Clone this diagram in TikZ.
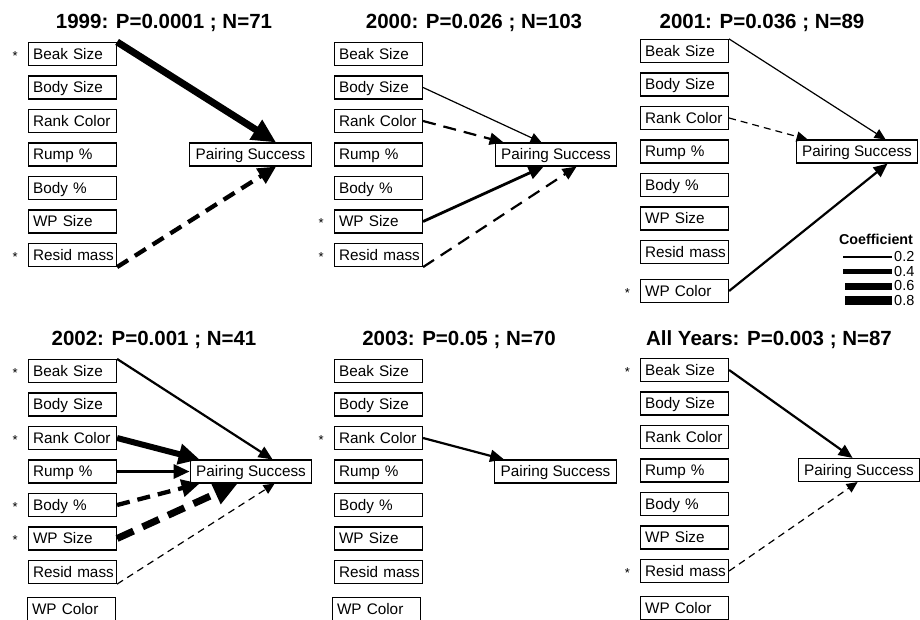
\documentclass[tikz,border=0pt]{standalone}
\usepackage{fontspec}
\setmainfont{Liberation Sans}
\usetikzlibrary{arrows.meta}
\newcommand\mypanel[3]{%
  \foreach \n/\t [count=\i] in {a/Beak Size, b/Body Size, c/Rank Color, d/Rump \%, e/Body \%, f/WP Size, g/\mbox{Resid mass}}{%
    \node[vbox] (#1\n) at (#2,{#3+33.5*(\i-1)}) {\t};}}
\newcommand\astk[1]{\node[astn] (#1s) at ([xshift=-10pt,yshift=-1pt]#1.base west) {*};}
\begin{document}
\begin{tikzpicture}[x=1pt,y=-1pt,
  vbox/.style={draw, line width=1.1pt, anchor=west, text width=79pt, inner xsep=4.5pt, inner ysep=0pt,
    minimum height=23pt, align=left, text height=12pt, text depth=2pt, font=\fontsize{15.3}{17}\selectfont},
  pbox/.style={draw, line width=1.1pt, inner xsep=6pt, inner ysep=0pt, minimum height=23pt,
    text height=12pt, text depth=2pt, font=\fontsize{15.3}{17}\selectfont},
  ttl/.style={anchor=base, inner sep=0pt, font=\bfseries\fontsize{20.5}{24}\selectfont},
  astn/.style={anchor=base east, inner sep=0pt, font=\fontsize{13}{15}\selectfont},
  lgd/.style={anchor=west, inner sep=0pt, font=\fontsize{14.5}{16}\selectfont},
  w1/.style={line width=1.2pt, -{Triangle[length=11pt,width=10pt]}},
  w2/.style={line width=2.2pt, -{Triangle[length=14pt,width=12pt]}},
  w2b/.style={line width=2.8pt, -{Triangle[length=15pt,width=13pt]}},
  w3/.style={line width=3.2pt, -{Triangle[length=16pt,width=14pt]}},
  w4/.style={line width=4.3pt, -{Triangle[length=18pt,width=17pt]}},
  w5/.style={line width=6pt, -{Triangle[length=21pt,width=20pt]}},
  w6/.style={line width=7pt, -{Triangle[length=24pt,width=22pt]}},
  dsh1/.style={dash pattern=on 7pt off 5pt},
  dsh2/.style={dash pattern=on 13pt off 8pt},
  dsh3/.style={dash pattern=on 18pt off 10pt},
]
\useasboundingbox (0,0) rectangle (920,619);

% ---------- titles ----------
\node[ttl] (t1) at (164,28.5) {1999: P=0.0001 ; N=71};
\node[ttl] (t2) at (474,28.5) {2000: P=0.026 ; N=103};
\node[ttl] (t3) at (762,28.5) {2001: P=0.036 ; N=89};
\node[ttl] (t4) at (154,345) {2002: P=0.001 ; N=41};
\node[ttl] (t5) at (459,345) {2003: P=0.05 ; N=70};
\node[ttl] (t6) at (769,345) {All Years: P=0.003 ; N=87};

% ---------- boxes ----------
\mypanel{P1}{28}{54}
\mypanel{P2}{334}{54}
\mypanel{P3}{640}{51}
\node[vbox] (P3h) at (640,291) {WP Color};
\mypanel{P4}{28}{371}
\node[vbox] (P4h) at (27,609) {WP Color};
\mypanel{P5}{334}{371}
\node[vbox] (P5h) at (332,609) {WP Color};
\mypanel{P6}{640}{370}
\node[vbox] (P6h) at (640,608) {WP Color};

\node[pbox] (P1ps) at (250.5,154.5) {Pairing Success};
\node[pbox] (P2ps) at (556,154.5) {Pairing Success};
\node[pbox] (P3ps) at (857,151.5) {Pairing Success};
\node[pbox] (P4ps) at (251,471.5) {Pairing Success};
\node[pbox] (P5ps) at (555.5,471.5) {Pairing Success};
\node[pbox] (P6ps) at (859,470) {Pairing Success};

% ---------- asterisks ----------
\astk{P1a}\astk{P1g}
\astk{P2f}\astk{P2g}
\astk{P3h}
\astk{P4a}\astk{P4c}\astk{P4e}\astk{P4f}
\astk{P5c}
\astk{P6a}\astk{P6g}

% ---------- arrows ----------
\draw[w6] (P1a.north east) -- ([xshift=87pt]P1ps.north west);
\draw[w4,dsh2] (P1g.south east) -- ([xshift=87pt]P1ps.south west);

\draw[w1] (P2b.east) -- ([xshift=47pt]P2ps.north west);
\draw[w2,dsh2] (P2c.east) -- ([xshift=9pt]P2ps.north west);
\draw[w2b] (P2f.east) -- ([xshift=49pt]P2ps.south west);
\draw[w2,dsh2] (P2g.south east) -- ([xshift=82pt]P2ps.south west);

\draw[w1] (P3a.north east) -- ([xshift=90pt]P3ps.north west);
\draw[w1,dsh1] (P3c.east) -- ([xshift=12pt]P3ps.north west);
\draw[w2] (P3h.east) -- ([xshift=92pt]P3ps.south west);

\draw[w2] (P4a.north east) -- ([xshift=83pt]P4ps.north west);
\draw[w5] (P4c.east) -- ([xshift=10pt]P4ps.north west);
\draw[w3] (P4d.east) -- (P4ps.west);
\draw[w4,dsh2] (P4e.east) -- ([xshift=10pt]P4ps.south west);
\draw[w6,dsh3] (P4f.east) -- ([xshift=48pt]P4ps.south west);
\draw[w1,dsh1] (P4g.south east) -- ([xshift=85pt]P4ps.south west);

\draw[w2] (P5c.east) -- ([xshift=10pt]P5ps.north west);

\draw[w2] (P6a.east) -- ([xshift=55pt]P6ps.north west);
\draw[w1,dsh1] (P6g.east) -- ([xshift=60pt]P6ps.south west);

% ---------- legend ----------
\node[anchor=base, inner sep=0pt, font=\bfseries\fontsize{14.3}{16}\selectfont] (coef) at (876,244) {Coefficient};
\foreach \v/\yy/\w/\xs [count=\k] in {0.2/257/2.5/843, 0.4/271.5/5/843, 0.6/286/7/845, 0.8/300.5/9.5/845}{%
  \node[lgd] (L\k) at (894,\yy) {\v};
  \draw[line width=\w pt] (\xs,\yy) -- ([xshift=-2pt]L\k.west);}
\end{tikzpicture}
\end{document}
